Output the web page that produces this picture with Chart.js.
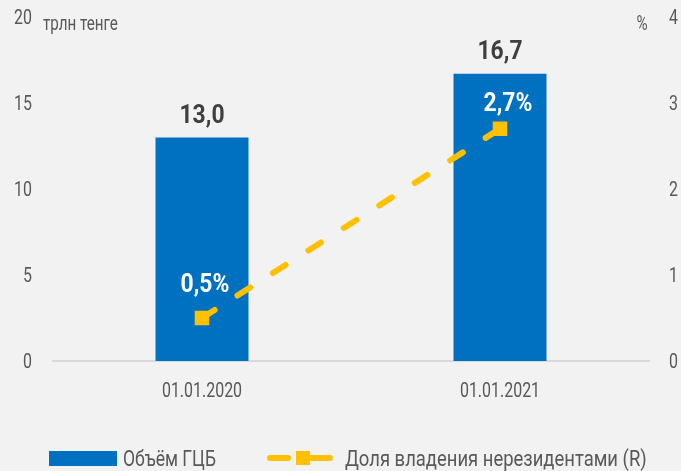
<!DOCTYPE html>
<html><head><meta charset="utf-8">
<script src="https://cdn.jsdelivr.net/npm/chart.js@4"></script>
<style>html,body{margin:0;padding:0;background:#f2f2f2;}#wrap{width:681px;height:471px;}</style>
</head><body><div id="wrap"><canvas id="c" width="681" height="471"></canvas></div>
<script>
const categories = ["01.01.2020", "01.01.2021"];
const volume = [13.0, 16.7];
const share = [0.5, 2.7];
const volumeLabel = "Объём ГЦБ";
const shareLabel = "Доля владения нерезидентами (R)";
const leftTicks = [0, 5, 10, 15, 20];
const rightTicks = [0, 1, 2, 3, 4];
const leftUnit = "трлн тенге";
const rightUnit = "%";

const FONT = "Roboto, 'DejaVu Sans', sans-serif";
const BLUE = "#0070C0", YELLOW = "#FFC000", GRAY = "#595959", DARK = "#3f3f3f";
const REG_SQ = 0.76, BOLD_SQ = 0.88;
const fmt = v => v.toFixed(1).replace('.', ',');

function txt(ctx, s, x, y, size, bold, align, color, sq) {
  ctx.save();
  ctx.font = (bold ? "bold " : "") + size + "px " + FONT;
  ctx.fillStyle = color;
  ctx.textBaseline = 'alphabetic';
  ctx.textAlign = align;
  ctx.translate(x, y);
  ctx.scale(sq, 1);
  ctx.fillText(s, 0, 0);
  ctx.restore();
}

const pctOffsets = [[3, -26], [8, -18]];

const labelsPlugin = {
  id: 'labels',
  afterDraw(chart) {
    const ctx = chart.ctx;
    const sx = chart.scales.x, sy = chart.scales.y, sy1 = chart.scales.y1;
    leftTicks.forEach(v => txt(ctx, String(v), 32, sy.getPixelForValue(v) + 7, 21, false, 'right', GRAY, REG_SQ));
    rightTicks.forEach(v => txt(ctx, String(v), 669, sy1.getPixelForValue(v) + 7, 21, false, 'left', GRAY, REG_SQ));
    categories.forEach((c, i) => txt(ctx, c, sx.getPixelForValue(i), 397, 21, false, 'center', GRAY, REG_SQ));
    txt(ctx, leftUnit, 43, 30, 20, false, 'left', GRAY, REG_SQ);
    txt(ctx, rightUnit, 642, 30, 20, false, 'center', GRAY, REG_SQ);
    chart.getDatasetMeta(0).data.forEach((b, i) => {
      txt(ctx, fmt(volume[i]), b.x, b.y - 14.5, 26, true, 'center', DARK, BOLD_SQ);
    });
    chart.getDatasetMeta(1).data.forEach((p, i) => {
      const o = pctOffsets[i];
      txt(ctx, fmt(share[i]) + '%', p.x + o[0], p.y + o[1], 26, true, 'center', '#ffffff', BOLD_SQ);
    });
    const ly = 458;
    ctx.save();
    ctx.fillStyle = BLUE;
    ctx.fillRect(49, 451, 68, 15);
    ctx.strokeStyle = YELLOW;
    ctx.lineWidth = 6;
    ctx.lineCap = 'round';
    ctx.beginPath(); ctx.moveTo(270, ly); ctx.lineTo(288, ly); ctx.stroke();
    ctx.beginPath(); ctx.moveTo(308, ly); ctx.lineTo(330, ly); ctx.stroke();
    ctx.fillStyle = YELLOW;
    ctx.fillRect(296, 451, 14, 14);
    ctx.restore();
    txt(ctx, chart.data.datasets[0].label, 123, 466, 22.5, false, 'left', GRAY, 0.78);
    txt(ctx, chart.data.datasets[1].label, 345, 466, 22.5, false, 'left', GRAY, 0.82);
  }
};

new Chart(document.getElementById('c'), {
  data: {
    labels: categories,
    datasets: [
      { type: 'bar', label: volumeLabel, data: volume, yAxisID: 'y',
        backgroundColor: BLUE, barPercentage: 0.312, categoryPercentage: 1, order: 1 },
      { type: 'line', label: shareLabel, data: share, yAxisID: 'y1',
        borderColor: YELLOW, backgroundColor: YELLOW, borderWidth: 6,
        borderDash: [15, 27], borderCapStyle: 'round', pointStyle: 'rect',
        pointRadius: 10.3, pointBorderWidth: 0, order: 0 }
    ]
  },
  options: {
    responsive: false, animation: false,
    layout: { padding: { top: 17, bottom: 0, left: 0, right: 0 } },
    plugins: { legend: { display: false }, tooltip: { enabled: false } },
    scales: {
      x: {
        grid: { display: false, drawTicks: false },
        border: { display: true, color: '#d9d9d9', width: 2 },
        ticks: { display: false },
        afterFit(s) { s.height = 110; }
      },
      y: {
        position: 'left', min: 0, max: 20,
        grid: { display: false, drawTicks: false },
        border: { display: false },
        ticks: { display: false },
        afterFit(s) { s.width = 53; }
      },
      y1: {
        position: 'right', min: 0, max: 4,
        grid: { display: false, drawTicks: false },
        border: { display: false },
        ticks: { display: false },
        afterFit(s) { s.width = 32; }
      }
    }
  },
  plugins: [labelsPlugin]
});
</script></body></html>
